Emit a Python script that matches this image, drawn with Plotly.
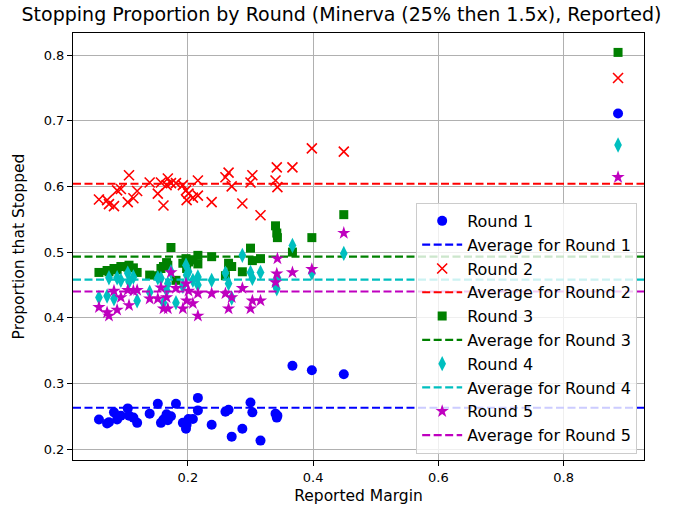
import plotly.graph_objects as go

margins = [0.058, 0.071, 0.074, 0.082, 0.087, 0.093, 0.104, 0.106, 0.113, 0.119,
           0.139, 0.152, 0.157, 0.161, 0.166, 0.168, 0.173, 0.181, 0.192, 0.197,
           0.198, 0.201, 0.208, 0.216, 0.216, 0.238, 0.260, 0.265, 0.270, 0.287,
           0.300, 0.303, 0.316, 0.340, 0.342, 0.343, 0.367, 0.398, 0.449, 0.887]

round1 = [0.245, 0.239, 0.241, 0.256, 0.245, 0.251, 0.262, 0.251, 0.248, 0.240,
          0.254, 0.269, 0.240, 0.245, 0.253, 0.244, 0.250, 0.269, 0.240, 0.231,
          0.237, 0.246, 0.246, 0.278, 0.259, 0.237, 0.257, 0.260, 0.219, 0.231,
          0.271, 0.256, 0.213, 0.254, 0.248, 0.251, 0.327, 0.320, 0.314, 0.711]

round2 = [0.580, 0.579, 0.573, 0.570, 0.594, 0.596, 0.576, 0.617, 0.582, 0.593,
          0.606, 0.589, 0.606, 0.571, 0.602, 0.612, 0.605, 0.605, 0.602, 0.594,
          0.579, 0.589, 0.583, 0.609, 0.586, 0.576, 0.614, 0.621, 0.600, 0.574,
          0.606, 0.617, 0.556, 0.609, 0.629, 0.599, 0.629, 0.658, 0.653, 0.765]

round3 = [0.469, 0.472, 0.470, 0.475, 0.473, 0.478, 0.477, 0.480, 0.476, 0.469,
          0.465, 0.464, 0.475, 0.478, 0.484, 0.480, 0.507, 0.457, 0.483, 0.490,
          0.475, 0.485, 0.488, 0.495, 0.482, 0.493, 0.464, 0.483, 0.478, 0.470,
          0.506, 0.487, 0.490, 0.540, 0.529, 0.522, 0.500, 0.522, 0.557, 0.804]

round4 = [0.431, 0.433, 0.461, 0.429, 0.461, 0.457, 0.468, 0.455, 0.462, 0.426,
          0.439, 0.461, 0.460, 0.423, 0.442, 0.452, 0.470, 0.423, 0.448, 0.480,
          0.465, 0.470, 0.457, 0.462, 0.450, 0.457, 0.468, 0.452, 0.430, 0.495,
          0.469, 0.460, 0.469, 0.449, 0.444, 0.461, 0.510, 0.468, 0.498, 0.663]

round5 = [0.416, 0.408, 0.403, 0.441, 0.412, 0.431, 0.442, 0.419, 0.441, 0.442,
          0.429, 0.429, 0.446, 0.414, 0.431, 0.414, 0.469, 0.445, 0.414, 0.452,
          0.426, 0.441, 0.422, 0.403, 0.437, 0.437, 0.437, 0.414, 0.431, 0.445,
          0.414, 0.426, 0.426, 0.454, 0.467, 0.490, 0.469, 0.474, 0.529, 0.614]

averages = [0.263, 0.604, 0.493, 0.458, 0.440]
round_names = ["Round 1", "Round 2", "Round 3", "Round 4", "Round 5"]
colors = ["#0000ff", "#ff0000", "#008000", "#00bfbf", "#bf00bf"]
symbols = ["circle", "x-thin", "square", "diamond-tall", "star"]
sizes = [10, 10, 9, 11, 10]

series = [round1, round2, round3, round4, round5]

span = max(margins) - min(margins)
x_range = [min(margins) - 0.05 * span, max(margins) + 0.05 * span]
all_y = [v for s in series for v in s]
yspan = max(all_y) - min(all_y)
y_range = [min(all_y) - 0.05 * yspan, max(all_y) + 0.05 * yspan]

fig = go.Figure()
for name, vals, avg, col, sym, sz in zip(round_names, series, averages, colors, symbols, sizes):
    marker = dict(color=col, symbol=sym, size=sz)
    if sym == "x-thin":
        marker["line"] = dict(color=col, width=1.6)
    else:
        marker["line"] = dict(width=0)
    fig.add_trace(go.Scatter(x=margins, y=vals, mode="markers", name=name, marker=marker))
    fig.add_trace(go.Scatter(x=x_range, y=[avg, avg], mode="lines",
                             name="Average for " + name,
                             line=dict(color=col, width=2.2, dash="8px,3.5px")))

axis_common = dict(showline=True, linecolor="black", linewidth=1.1, mirror=True,
                   ticks="outside", ticklen=5, tickcolor="black", tickwidth=1.1,
                   showgrid=True, gridcolor="#b0b0b0", gridwidth=1.1, zeroline=False,
                   automargin=False,
                   tickfont=dict(family="DejaVu Sans", size=13, color="black"))

fig.update_layout(
    width=683, height=512,
    margin=dict(l=73, r=39, t=33, b=52),
    paper_bgcolor="white", plot_bgcolor="white",
    font=dict(family="DejaVu Sans", size=15, color="black"),
    title=dict(text="Stopping Proportion by Round (Minerva (25% then 1.5x), Reported)",
               x=0.5, xref="container", xanchor="center", y=0.971, yanchor="middle",
               font=dict(size=19, family="DejaVu Sans")),
    xaxis=dict(range=x_range, tickvals=[0.2, 0.4, 0.6, 0.8],
               title=dict(text="Reported Margin", standoff=6, font=dict(size=15.5)),
               **axis_common),
    yaxis=dict(range=y_range, tickvals=[0.2, 0.3, 0.4, 0.5, 0.6, 0.7, 0.8],
               title=dict(text="Proportion that Stopped", standoff=15, font=dict(size=15.5)),
               **axis_common),
    legend=dict(x=0.601, y=0.602, xanchor="left", yanchor="top",
                bgcolor="rgba(255,255,255,0.8)", bordercolor="#cccccc", borderwidth=1,
                font=dict(size=16, family="DejaVu Sans"), tracegroupgap=0,
                itemwidth=40),
    showlegend=True,
)

fig.write_html("out.html",
               config={"displayModeBar": False},
               post_script="document.body.style.margin='0';document.body.style.overflow='hidden';")
